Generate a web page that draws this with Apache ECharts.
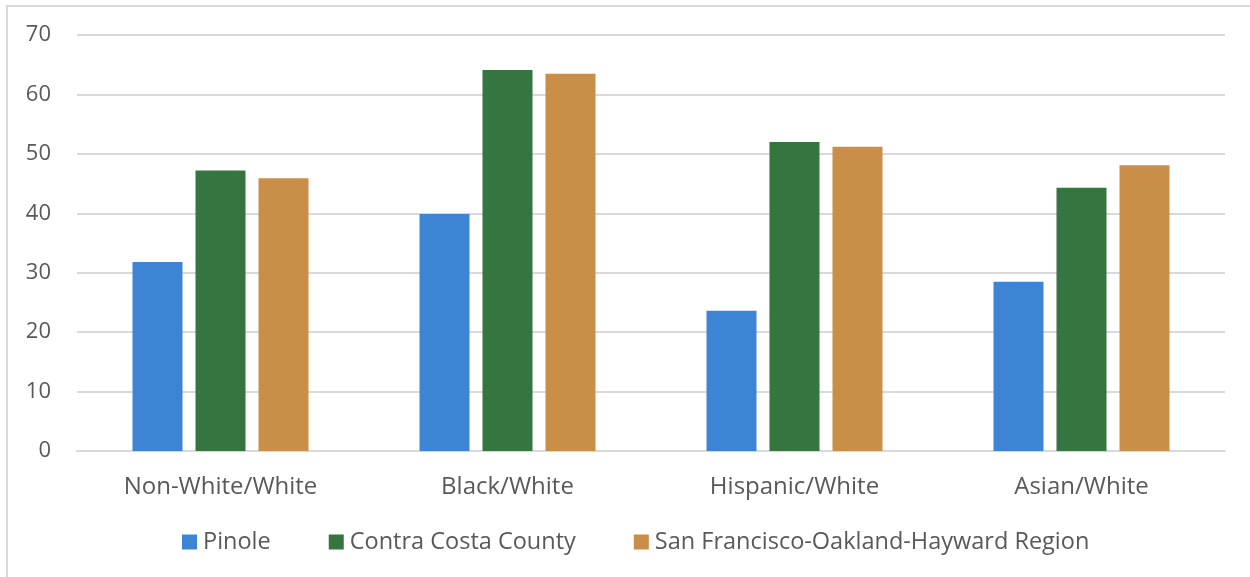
<!DOCTYPE html>
<html>
<head>
<meta charset="utf-8">
<script src="https://cdn.jsdelivr.net/npm/echarts@6/dist/echarts.min.js"></script>
<style>html,body{margin:0;padding:0;background:#fff;}#c{width:1250px;height:577px;}</style>
</head>
<body>
<div id="c"></div>
<script>
const categories = ['Non-White/White', 'Black/White', 'Hispanic/White', 'Asian/White'];
const pinole = [31.8, 39.9, 23.6, 28.5];
const contraCosta = [47.2, 64.1, 52.0, 44.3];
const sfRegion = [45.9, 63.5, 51.2, 48.1];
const seriesNames = ['Pinole', 'Contra Costa County', 'San Francisco-Oakland-Hayward Region'];

const chart = echarts.init(document.getElementById('c'), null, {renderer: 'canvas'});
const font = '"Open Sans", "Noto Sans", sans-serif';
const mk = (name, data, color) => ({
  name, type: 'bar', data, barWidth: 50, barGap: '26%',
  itemStyle: {color}, emphasis: {disabled: true}
});
chart.setOption({
  animation: false,
  backgroundColor: '#fff',
  graphic: [{
    type: 'rect', shape: {x: 7, y: 6, width: 1300, height: 650},
    style: {fill: 'none', stroke: '#d9d9d9', lineWidth: 2}, silent: true
  }],
  grid: {left: 77, right: 25, top: 35, bottom: 126, containLabel: false},
  legend: {
    data: seriesNames, top: 525, left: 177, itemWidth: 15, itemHeight: 15,
    itemGap: 58, icon: 'rect',
    textStyle: {fontFamily: font, fontSize: 23.5, color: '#595959', padding: [0, 0, 0, 1]}
  },
  xAxis: {
    type: 'category', data: categories,
    axisLine: {lineStyle: {color: '#d9d9d9', width: 2}},
    axisTick: {show: false},
    axisLabel: {fontFamily: font, fontSize: 24, color: '#595959', margin: 24}
  },
  yAxis: {
    type: 'value', min: 0, max: 70, interval: 10,
    axisLine: {show: false}, axisTick: {show: false},
    splitLine: {lineStyle: {color: '#d9d9d9', width: 2}},
    axisLabel: {fontFamily: font, fontSize: 22, color: '#595959', margin: 26}
  },
  series: [
    mk(seriesNames[0], pinole, '#3E84D4'),
    mk(seriesNames[1], contraCosta, '#357540'),
    mk(seriesNames[2], sfRegion, '#C98E48')
  ]
});
</script>
</body>
</html>
